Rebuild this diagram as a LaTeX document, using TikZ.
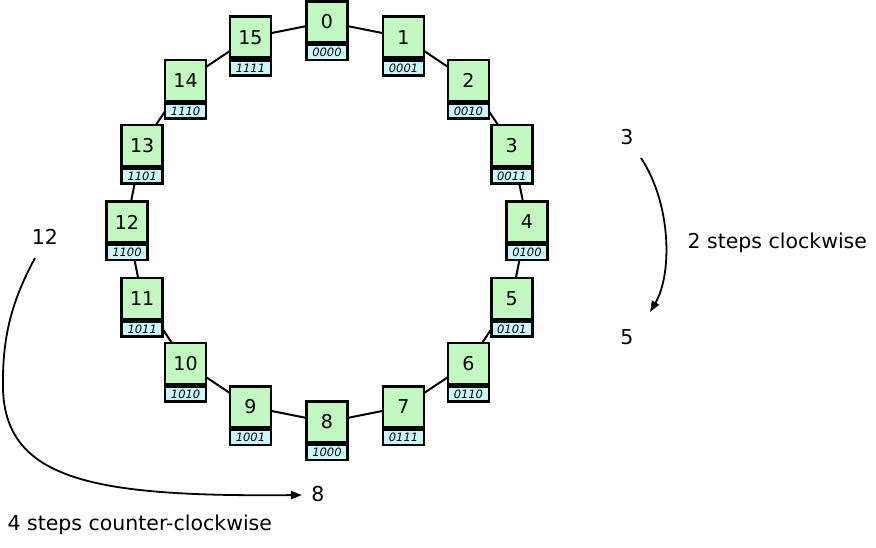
\documentclass[tikz,border=0pt]{standalone}
\usepackage{fontspec}
\setmainfont{DejaVu Sans}
\usetikzlibrary{positioning,arrows.meta,backgrounds,calc}
\definecolor{keyGreen}{HTML}{C1F9C1}
\definecolor{bitCyan}{HTML}{C8F8FC}

\begin{document}
\begin{tikzpicture}[x=1pt,y=-1pt,
    numbox/.style={draw, line width=2.6pt, fill=keyGreen, minimum width=41pt, minimum height=41pt, inner sep=0pt, font=\fontsize{19}{19}\selectfont},
    bitbox/.style={draw, line width=2.6pt, fill=bitCyan, minimum width=41pt, minimum height=15pt, inner sep=0pt, font=\fontsize{11.5}{11.5}\selectfont\itshape},
    ring/.style={line width=2pt},
    hop/.style={line width=1.8pt, -{Triangle[length=11pt,width=8pt]}},
    lbl/.style={font=\fontsize{20.5}{20.5}\selectfont},
  ]
  \useasboundingbox (0,0) rectangle (876,547);
  % sixteen ring positions
  \foreach \k/\b in {0/0000,1/0001,2/0010,3/0011,4/0100,5/0101,6/0110,7/0111,
                     8/1000,9/1001,10/1010,11/1011,12/1100,13/1101,14/1110,15/1111} {
    \node[numbox] (n\k) at ({327+200*sin(22.5*\k)},{222-200*cos(22.5*\k)}) {\k};
    \node[bitbox, anchor=north] (b\k) at (n\k.south) {\b};
  }
  \begin{scope}[on background layer]
    \foreach \k in {0,...,15} {
      \pgfmathtruncatemacro\j{mod(\k+1,16)}
      \draw[ring] (n\k.center) -- (n\j.center);
    }
  \end{scope}

  % clockwise example
  \node[lbl] (from3) at (627,137) {3};
  \node[lbl] (to5) at (627,337) {5};
  \node[lbl, anchor=west] (cwtext) at (684,243) {2 steps clockwise};
  \draw[hop] ($(from3)+(14,21)$) .. controls +(31,47) and +(22,-37) .. ($(to5)+(23,-25)$);

  % counter-clockwise example
  \node[lbl] (from12) at (45,237) {12};
  \node[lbl] (to8) at (318,494) {8};
  \node[lbl, anchor=west] (ccwtext) at (4,525) {4 steps counter-clockwise};
  \coordinate (ccwbend) at (3,380);
  \draw[hop] ($(from12)+(-10,21)$) .. controls +(-20,37) and +(0,-50) .. (ccwbend)
    .. controls +(-3,100) and +(-212,2) .. ($(to8)+(-16,1)$);
\end{tikzpicture}
\end{document}
